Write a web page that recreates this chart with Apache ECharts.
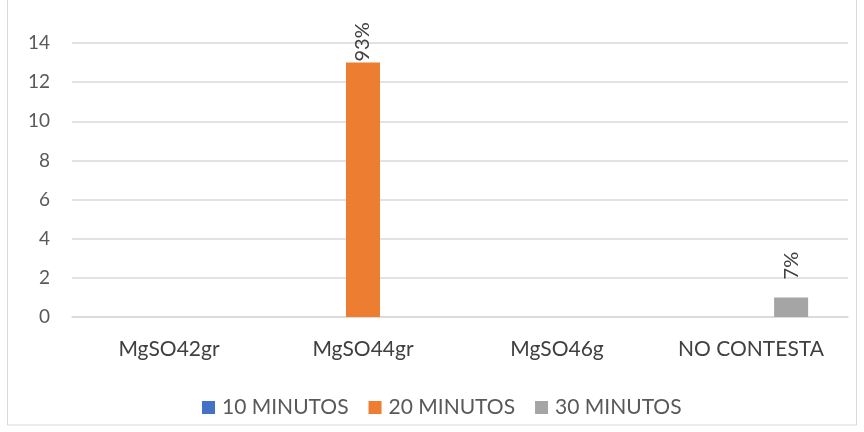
<!DOCTYPE html>
<html>
<head>
<meta charset="utf-8">
<script src="https://cdn.jsdelivr.net/npm/echarts@6/dist/echarts.min.js"></script>
<style>
  html, body { margin: 0; padding: 0; background: #fff; }
  #chart { width: 864px; height: 432px; }
</style>
</head>
<body>
<div id="chart"></div>
<script>
// Categories and series values
const categories = ['MgSO42gr', 'MgSO44gr', 'MgSO46g', 'NO CONTESTA'];
const seriesNames = ['10 MINUTOS', '20 MINUTOS', '30 MINUTOS'];
const values10 = [null, null, null, null];
const values20 = [null, 13, null, null];
const values30 = [null, null, null, 1];
// Percentage labels shown above bars
const labels20 = ['', '93%', '', ''];
const labels30 = ['', '', '', '7%'];
const yTicks = [0, 2, 4, 6, 8, 10, 12, 14];

const colors = ['#4472c4', '#ed7d31', '#a5a5a5'];
const font = 'Lato, Liberation Sans, Arial, sans-serif';

function withLabels(vals, labs, dist) {
  return vals.map((v, i) => ({
    value: v,
    label: {
      show: !!labs[i],
      formatter: labs[i],
      position: 'top',
      rotate: 90,
      align: 'left',
      verticalAlign: 'middle',
      distance: dist[i] || 2,
      color: '#404040',
      fontSize: 20,
      fontFamily: font
    }
  }));
}

const chart = echarts.init(document.getElementById('chart'));
chart.setOption({
  animation: false,
  color: colors,
  graphic: [{
    type: 'rect',
    shape: { x: 7.5, y: -1, width: 849, height: 426 },
    style: { fill: 'none', stroke: '#d9d9d9', lineWidth: 1 },
    silent: true
  }],
  grid: { left: 72, right: 16, top: 43, bottom: 115, containLabel: false },
  legend: {
    data: seriesNames,
    left: 197,
    top: 392,
    icon: 'rect',
    itemWidth: 13,
    itemHeight: 13,
    itemGap: 20,
    textStyle: { color: '#595959', fontSize: 21, fontFamily: font, padding: [0, 0, 0, 2] }
  },
  xAxis: {
    type: 'category',
    data: categories,
    axisLine: { lineStyle: { color: '#d9d9d9', width: 1.5 } },
    axisTick: { show: false },
    axisLabel: { color: '#404040', fontSize: 21, fontFamily: font, margin: 22 }
  },
  yAxis: {
    type: 'value',
    min: yTicks[0],
    max: yTicks[yTicks.length - 1],
    interval: 2,
    axisLine: { show: false },
    axisTick: { show: false },
    splitLine: { lineStyle: { color: '#d9d9d9', width: 1.5 } },
    axisLabel: { color: '#595959', fontSize: 19, fontFamily: font, margin: 22 }
  },
  series: [
    { name: seriesNames[0], type: 'bar', data: values10, barWidth: 34, barGap: '18%' },
    { name: seriesNames[1], type: 'bar', data: withLabels(values20, labels20, [0, 1, 0, 0]), barWidth: 34, barGap: '18%' },
    { name: seriesNames[2], type: 'bar', data: withLabels(values30, labels30, [0, 0, 0, 18]), barWidth: 34, barGap: '18%' }
  ]
});
</script>
</body>
</html>
